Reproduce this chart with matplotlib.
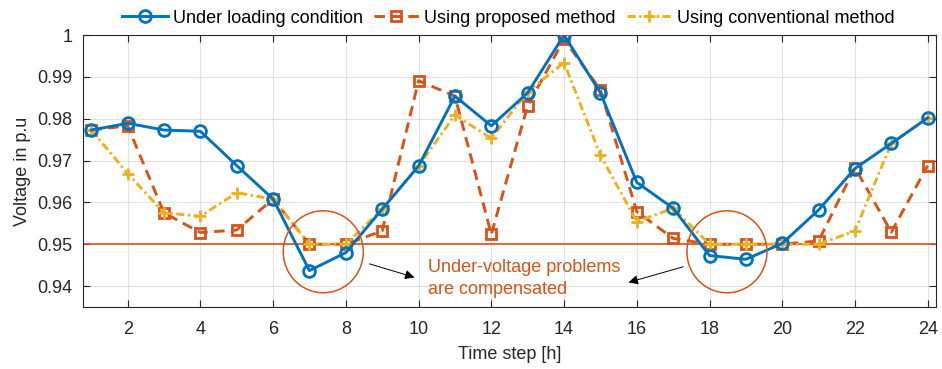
import numpy as np
import matplotlib
matplotlib.use('Agg')
import matplotlib.pyplot as plt
from matplotlib.patches import Ellipse

hours = np.arange(1, 25)
under_loading = [0.9773, 0.9789, 0.9773, 0.9770, 0.9688, 0.9608, 0.9437, 0.9480,
                 0.9584, 0.9687, 0.9854, 0.9783, 0.9862, 1.0000, 0.9862, 0.9648,
                 0.9586, 0.9473, 0.9464, 0.9502, 0.9582, 0.9681, 0.9741, 0.9802]
proposed = [0.9773, 0.9783, 0.9575, 0.9528, 0.9534, 0.9608, 0.9500, 0.9500,
            0.9532, 0.9891, 0.9854, 0.9524, 0.9831, 0.9990, 0.9869, 0.9578,
            0.9514, 0.9500, 0.9500, 0.9500, 0.9508, 0.9683, 0.9529, 0.9688]
conventional = [0.9773, 0.9669, 0.9575, 0.9567, 0.9623, 0.9608, 0.9500, 0.9500,
                0.9584, 0.9687, 0.9809, 0.9753, 0.9865, 0.9934, 0.9713, 0.9554,
                0.9586, 0.9500, 0.9500, 0.9500, 0.9500, 0.9532, 0.9741, 0.9802]
labels = ['Under loading condition', 'Using proposed method', 'Using conventional method']
xticks = list(range(2, 25, 2))
yticks = [0.94, 0.95, 0.96, 0.97, 0.98, 0.99, 1.0]
ytick_labels = ['0.94', '0.95', '0.96', '0.97', '0.98', '0.99', '1']
limit = 0.95

blue, red, yellow = '#0072BD', '#D95319', '#EDB120'
dark = '#262626'

plt.rcParams['font.family'] = ['Liberation Sans', 'DejaVu Sans']
plt.rcParams['font.size'] = 13

fig = plt.figure(figsize=(9.42, 3.69), dpi=100)
ax = fig.add_axes([0.0884, 0.168, 0.9053, 0.737])

ax.axhline(limit, color=red, lw=1.2, zorder=2)
ax.plot(hours, under_loading, '-', color=blue, lw=2.1, marker='o', ms=8.5,
        mfc='none', mew=2, label=labels[0], zorder=4)
ax.plot(hours, proposed, color=red, lw=2.1, dashes=(3.6, 2.2), marker='s', ms=6.5,
        mfc='none', mew=2, label=labels[1], zorder=3)
ax.plot(hours, conventional, color=yellow, lw=2.1, dashes=(2.8, 1.2, 0.8, 1.2),
        marker='+', ms=8.5, mew=2, label=labels[2], zorder=3)

for cx in (7.38, 18.48):
    ax.add_patch(Ellipse((cx, 0.9482), 2.2, 0.0196, fill=False,
                         edgecolor=red, lw=1.1, zorder=5))

arrow = dict(arrowstyle='-|>', color='black', lw=0.7, mutation_scale=14)
ax.annotate('', xy=(9.96, 0.9419), xytext=(8.58, 0.9455), arrowprops=arrow)
ax.annotate('', xy=(15.70, 0.9407), xytext=(17.35, 0.9448), arrowprops=arrow)
ax.text(10.27, 0.9418, 'Under-voltage problems\nare compensated', color=red,
        ha='left', va='center', fontsize=13, linespacing=1.35)

ax.set_xlim(0.78, 24.23)
ax.set_ylim(0.935, 1.0)
ax.set_xticks(xticks)
ax.set_yticks(yticks)
ax.set_yticklabels(ytick_labels)
ax.grid(True, color=dark, alpha=0.13, lw=0.8)
ax.set_axisbelow(True)
ax.tick_params(direction='in', top=True, right=True, length=5, width=0.8,
               colors=dark, labelcolor=dark, pad=8)
ax.tick_params(axis='x', pad=10)
for s in ax.spines.values():
    s.set_color(dark)
    s.set_linewidth(0.8)
ax.set_xlabel('Time step [h]', color=dark, labelpad=6)
ax.set_ylabel('Voltage in p.u', color=dark, labelpad=4)

fig.legend(loc='center', bbox_to_anchor=(0.54, 0.951), ncol=3, frameon=False,
           handlelength=2.5, handletextpad=0.3, columnspacing=0.6,
           borderaxespad=0, fontsize=13)

fig.savefig('out.png', dpi=100)
